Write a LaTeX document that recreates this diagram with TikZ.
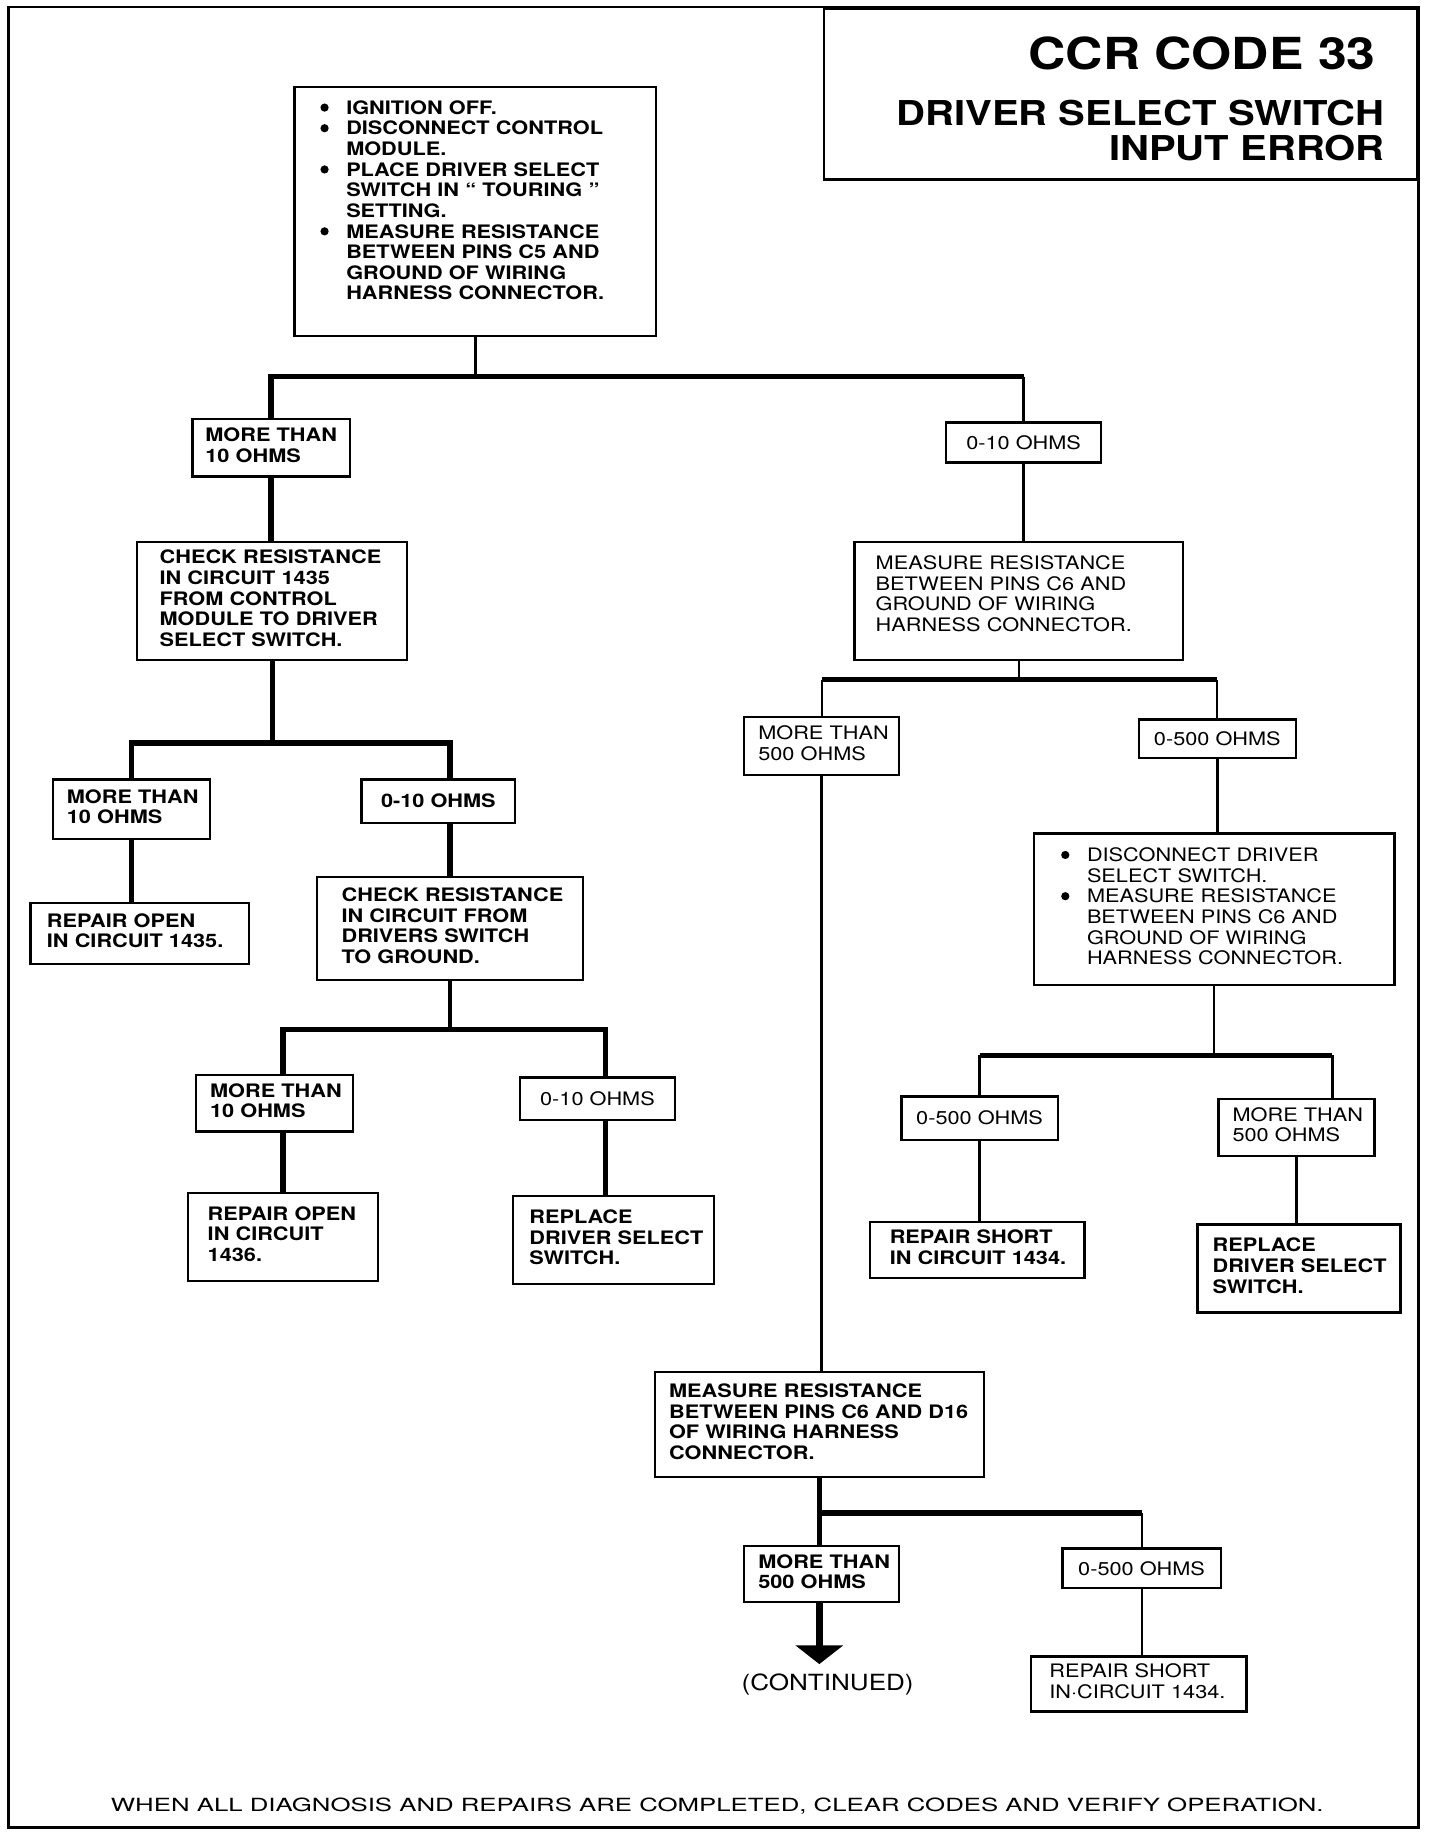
\documentclass[tikz,border=0pt]{standalone}
\usepackage{fontspec}
\setmainfont{TeX Gyre Heros}
\newfontfamily\boxfont{TeX Gyre Heros}[FakeStretch=1.17]
\newfontfamily\notefont{TeX Gyre Heros}[FakeStretch=1.42]
\usetikzlibrary{arrows.meta}

\newcommand{\boxrows}[2][0cm]{\noindent\raisebox{#1}[\height][\depth]{\begin{tabular}{@{}l@{}}#2\end{tabular}}}
\newcommand{\bulletrows}[2][0cm]{\noindent\raisebox{#1}[\height][\depth]{\begin{tabular}{@{}p{0.44cm}@{}l@{}}#2\end{tabular}}}
\newcommand{\dotmark}{\tikz[baseline=0pt]\fill (0.06cm,0.115cm) circle[radius=0.07cm];}

\begin{document}
\begin{tikzpicture}[x=0.02cm,y=-0.02cm,
  box/.style={draw,line width=1.1pt,anchor=north west,inner ysep=0pt,font=\boxfont\fontsize{9}{10}\selectfont},
  boldbox/.style={box,font=\boxfont\bfseries\fontsize{9}{10}\selectfont},
  thickline/.style={line width=2.6pt},
  midline/.style={line width=1.6pt},
  thinline/.style={line width=1pt},
  contarrow/.style={line width=3.2pt,-{Triangle[width=0.8cm,length=0.32cm]},shorten >=0.16cm}]

\useasboundingbox (0,0) rectangle (1226.7,1564);

% Frame and title
\draw[line width=1.4pt] (7,6) rectangle (1208,1557);
\node[draw,line width=1.2pt,anchor=north east,minimum width=10.1cm,minimum height=2.92cm,inner sep=0pt] (title) at (1208,6) {};
\node[anchor=base east,inner sep=0pt,font=\boxfont\bfseries\fontsize{21.4}{24}\selectfont] (code) at (1172,59) {CCR CODE 33};
\node[anchor=base east,inner sep=0pt,font=\boxfont\bfseries\fontsize{16.6}{18}\selectfont] (name) at (1180,107) {DRIVER SELECT SWITCH};
\node[anchor=base east,inner sep=0pt,font=\boxfont\bfseries\fontsize{16.6}{18}\selectfont] (error) at (1180,137) {INPUT ERROR};

% First test
\node[boldbox,text width=5.28cm,inner xsep=0.44cm,minimum height=4.24cm] (start) at (250,73)
  {\bulletrows[0.14cm]{\dotmark & IGNITION OFF.\\ \dotmark & DISCONNECT CONTROL\\ & MODULE.\\
   \dotmark & PLACE DRIVER SELECT\\ & SWITCH IN “ TOURING ”\\ & SETTING.\\
   \dotmark & MEASURE RESISTANCE\\ & BETWEEN PINS C5 AND\\ & GROUND OF WIRING\\ & HARNESS CONNECTOR.}};

% Left branch
\node[boldbox,text width=2.24cm,inner xsep=0.22cm,minimum height=0.98cm] (L1) at (163,356) {\boxrows{MORE THAN\\10 OHMS}};
\node[boldbox,text width=3.84cm,inner xsep=0.38cm,minimum height=2cm] (L2) at (116,461)
  {\boxrows{CHECK RESISTANCE\\IN CIRCUIT 1435\\FROM CONTROL\\MODULE TO DRIVER\\SELECT SWITCH.}};
\node[boldbox,text width=2.2cm,inner xsep=0.24cm,minimum height=1.02cm] (L3a) at (44,663) {\boxrows{MORE THAN\\10 OHMS}};
\node[boldbox,text width=3.16cm,inner xsep=0.28cm,minimum height=1.04cm] (L3ares) at (25,768) {\boxrows{REPAIR OPEN\\IN CIRCUIT 1435.}};
\node[boldbox,minimum width=2.62cm,minimum height=0.74cm] (L3b) at (307,663) {0-10 OHMS};
\node[boldbox,text width=3.7cm,inner xsep=0.42cm,minimum height=1.76cm] (L4) at (269,746)
  {\boxrows{CHECK RESISTANCE\\IN CIRCUIT FROM\\DRIVERS SWITCH\\TO GROUND.}};
\node[boldbox,text width=2.2cm,inner xsep=0.24cm,minimum height=0.96cm] (L5a) at (166,915) {\boxrows{MORE THAN\\10 OHMS}};
\node[boldbox,text width=2.56cm,inner xsep=0.34cm,minimum height=1.5cm] (L5ares) at (159,1015) {\boxrows{REPAIR OPEN\\IN CIRCUIT\\1436.}};
\node[box,minimum width=2.64cm,minimum height=0.72cm] (L5b) at (442,917) {0-10 OHMS};
\node[boldbox,text width=2.86cm,inner xsep=0.28cm,minimum height=1.5cm] (L5bres) at (436,1018) {\boxrows{REPLACE\\DRIVER SELECT\\SWITCH.}};

% Right branch
\node[box,minimum width=2.64cm,minimum height=0.68cm] (R1) at (805,359) {0-10 OHMS};
\node[box,text width=4.88cm,inner xsep=0.36cm,minimum height=2cm] (R2) at (727,461)
  {\boxrows[0.08cm]{MEASURE RESISTANCE\\BETWEEN PINS C6 AND\\GROUND OF WIRING\\HARNESS CONNECTOR.}};
\node[box,text width=2.16cm,inner xsep=0.24cm,minimum height=0.98cm] (R3a) at (633,610) {\boxrows{MORE THAN\\500 OHMS}};
\node[box,minimum width=2.68cm,minimum height=0.66cm] (R3b) at (969,612) {0-500 OHMS};
\node[box,text width=5.22cm,inner xsep=0.46cm,minimum height=2.58cm] (R4) at (880,709)
  {\bulletrows{\dotmark & DISCONNECT DRIVER\\ & SELECT SWITCH.\\ \dotmark & MEASURE RESISTANCE\\
   & BETWEEN PINS C6 AND\\ & GROUND OF WIRING\\ & HARNESS CONNECTOR.}};
\node[box,minimum width=2.66cm,minimum height=0.74cm] (R5a) at (767,933) {0-500 OHMS};
\node[boldbox,text width=2.98cm,inner xsep=0.34cm,minimum height=0.96cm] (R5ares) at (740,1040) {\boxrows{REPAIR SHORT\\IN CIRCUIT 1434.}};
\node[box,text width=2.18cm,inner xsep=0.24cm,minimum height=0.98cm] (R5b) at (1037,935) {\boxrows{MORE THAN\\500 OHMS}};
\node[boldbox,text width=2.94cm,inner xsep=0.26cm,minimum height=1.5cm] (R5bres) at (1019,1042) {\boxrows{REPLACE\\DRIVER SELECT\\SWITCH.}};

% Second test
\node[boldbox,text width=5.12cm,inner xsep=0.24cm,minimum height=1.78cm] (B1) at (557,1168)
  {\boxrows{MEASURE RESISTANCE\\BETWEEN PINS C6 AND D16\\OF WIRING HARNESS\\CONNECTOR.}};
\node[boldbox,text width=2.16cm,inner xsep=0.24cm,minimum height=0.96cm] (B2a) at (633,1316) {\boxrows{MORE THAN\\500 OHMS}};
\node[box,minimum width=2.7cm,minimum height=0.68cm] (B2b) at (904,1318) {0-500 OHMS};
\node[box,text width=3.04cm,inner xsep=0.32cm,minimum height=0.94cm] (B2bres) at (877,1410) {\boxrows{REPAIR SHORT\\IN·CIRCUIT 1434.}};
\node[inner sep=0pt,font=\boxfont\fontsize{10.8}{12}\selectfont] (cont) at (705,1435) {(CONTINUED)};

\node[anchor=base,inner sep=0pt,font=\notefont\fontsize{8.8}{10}\selectfont] (note) at (611,1543)
  {WHEN ALL DIAGNOSIS AND REPAIRS ARE COMPLETED, CLEAR CODES AND VERIFY OPERATION.};

% Connectors, left
\path (start.south) ++(0,34) coordinate (j1);
\draw[midline] (start.south) -- (j1);
\draw[thickline] (L1.north) |- (R1.north |- j1);
\draw[midline] (R1.north |- j1) -- (R1.north);
\draw[thickline] (L1.south) -- (L1.south |- L2.north);
\path (L2.south) ++(0,70) coordinate (j2);
\draw[thickline] (L2.south) -- (j2);
\draw[thickline] (L3a.north) |- (j2) -| (L4.north |- L3b.north);
\draw[thickline] (L3a.south) -- (L3a.south |- L3ares.north);
\draw[thickline] (L4.north |- L3b.south) -- (L4.north);
\path (L4.south) ++(0,41) coordinate (j3);
\draw[midline] (L4.south) -- (j3);
\coordinate (d3) at ([xshift=-0.13cm]L5bres.north);
\draw[thickline] (L5ares.north |- L5a.north) |- (j3) -| (d3 |- L5b.north);
\draw[thickline] (L5ares.north |- L5a.south) -- (L5ares.north);
\draw[thickline] (d3 |- L5b.south) -- (d3);

% Connectors, right
\draw[midline] (R1.south) -- (R1.south |- R2.north);
\path (R2.south) ++(0,16) coordinate (j4);
\draw[thinline] (R2.south) -- (j4);
\draw[thickline] (R3a.north |- j4) -- (R3b.north |- j4);
\draw[thinline] (R3a.north |- j4) -- (R3a.north);
\draw[thinline] (R3b.north |- j4) -- (R3b.north);
\draw[midline] (R3a.south) -- (R3a.south |- B1.north);
\draw[midline] (R3b.south) -- (R3b.south |- R4.north);
\path (R4.south) ++(0,59) coordinate (j5);
\draw[thinline] (R4.south) -- (j5);
\coordinate (d5) at ([xshift=-0.74cm]R5b.north east);
\draw[thickline] (R5a.north |- j5) -- (d5 |- j5);
\draw[midline] (R5a.north |- j5) -- (R5a.north);
\draw[midline] (d5 |- j5) -- (d5);
\draw[midline] (R5a.south) -- (R5a.south |- R5ares.north);
\draw[midline] (R5b.south) -- (R5b.south |- R5bres.north);

% Connectors, bottom
\draw[thickline] (B1.south) -- (B1.south |- B2a.north);
\path (B1.south) ++(0,30) coordinate (j6);
\draw[thickline] (j6) -- (B2b.north |- j6);
\draw[thinline] (B2b.north |- j6) -- (B2b.north);
\draw[thinline] (B2b.south) -- (B2b.south |- B2bres.north);
\draw[contarrow] (B1.south |- B2a.south) -- (B1.south |- cont.north);

\end{tikzpicture}
\end{document}
